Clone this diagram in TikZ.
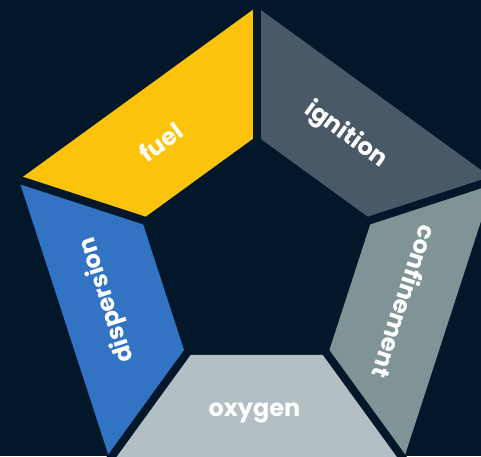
\documentclass[tikz,border=0pt]{standalone}
\usepackage{fontspec}
\setmainfont{Poppins}
\usetikzlibrary{calc}
\definecolor{bgc}{HTML}{021729}
\definecolor{fuelc}{HTML}{FCC30C}
\definecolor{ignc}{HTML}{4A5968}
\definecolor{confc}{HTML}{809397}
\definecolor{oxyc}{HTML}{B3BFC4}
\definecolor{dispc}{HTML}{3274C3}
\begin{document}
\begin{tikzpicture}[x=1pt,y=1pt,
  seglabel/.style={text=white,font=\fontsize{24}{24}\selectfont\bfseries,inner sep=0pt,anchor=center},
  gapline/.style={draw=bgc,line width=8pt}]
\fill[bgc] (0,0) rectangle (481,456);
\useasboundingbox (0,0) rectangle (481,456);
\clip (0,0) rectangle (481,456);
\coordinate (C) at (256.7,199);
\def\Ro{250}
\def\Ri{121}
\foreach \a in {90,162,234,306,18}{
  \coordinate (o\a) at ($(C)+(\a:\Ro)$);
  \coordinate (i\a) at ($(C)+(\a:\Ri)$);
  \coordinate (go\a) at ($(C)+(\a:\Ro+10)$);
  \coordinate (gi\a) at ($(C)+(\a:\Ri-10)$);
}
\fill[fuelc] (o90) -- (o162) -- (i162) -- (i90) -- cycle;
\fill[dispc] (o162) -- (o234) -- (i234) -- (i162) -- cycle;
\fill[oxyc] (o234) -- (o306) -- (i306) -- (i234) -- cycle;
\fill[confc] (o306) -- (o18) -- (i18) -- (i306) -- cycle;
\fill[ignc] (o18) -- (o90) -- (i90) -- (i18) -- cycle;
\foreach \a in {90,162,234,306,18}{
  \draw[gapline] (gi\a) -- (go\a);
}
\node[seglabel,rotate=36] (fuel) at (160.5,314) {fuel};
\node[seglabel,rotate=-36] (ign) at (346,321) {ignition};
\node[seglabel,rotate=-108] (conf) at (405,154) {confinement};
\node[seglabel,rotate=108] (disp) at (107,156) {dispersion};
\node[seglabel] (oxy) at (254.5,43) {oxygen};
\end{tikzpicture}
\end{document}
